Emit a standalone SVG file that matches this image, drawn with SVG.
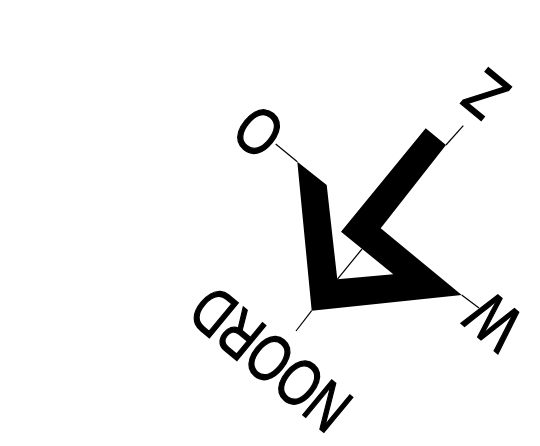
<svg xmlns="http://www.w3.org/2000/svg" width="540" height="446" viewBox="0 0 540 446">
<style>
.t{font-family:"Liberation Sans",Arial,sans-serif;font-size:66px;fill:#000;stroke:#000;stroke-width:1.4}
.c{stroke:#000;stroke-width:1.2;fill:none}
</style>
<rect width="540" height="446" fill="#fff"/>
<g id="connectors">
<line class="c" x1="311.7" y1="310.7" x2="296" y2="331"/>
<line class="c" x1="297.3" y1="161.7" x2="275.7" y2="144"/>
<line class="c" x1="446" y1="145" x2="463.3" y2="125.7"/>
<line class="c" x1="461.7" y1="295" x2="479" y2="308"/>
<line class="c" x1="337.3" y1="279.3" x2="362" y2="249"/>
</g>
<g id="arrow">
<path fill="#000" fill-rule="evenodd" d="M425.7 128.3L446 145L380.7 228.3L461.7 295L311.7 310.7L297.3 161.7L326.7 185L337.3 279.3L393.3 274.3L341 231.7Z"/>
</g>
<g id="label-noord"><text class="t" transform="translate(356 400) rotate(-140.5) scale(.75 1)">NOORD</text></g>
<g id="label-o"><text class="t" text-anchor="middle" transform="translate(273 114) rotate(-140.5) scale(.78 1)">O</text></g>
<g id="label-z"><text class="t" transform="translate(513 88) rotate(-140.5) scale(.84 1)">Z</text></g>
<g id="label-w"><text class="t" transform="translate(527 319) rotate(-140.5) scale(.78 1)">W</text></g>
</svg>
